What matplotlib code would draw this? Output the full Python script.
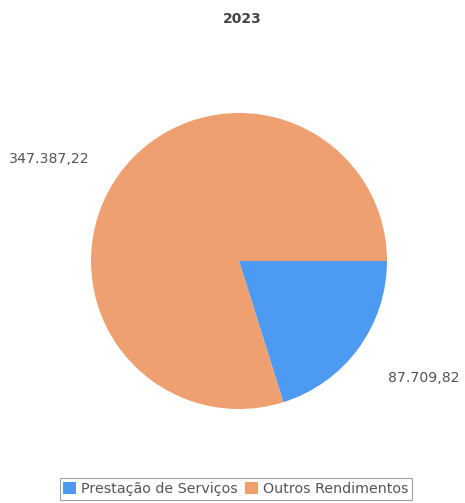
import matplotlib
matplotlib.use('Agg')
import matplotlib.pyplot as plt

title = '2023'
categories = ['Prestação de Serviços', 'Outros Rendimentos']
values = [87709.82, 347387.22]
value_labels = ['87.709,82', '347.387,22']
colors = ['#4d9af2', '#eea070']

W, H = 465, 503
fig = plt.figure(figsize=(W / 100, H / 100), dpi=100)

cx, cy, r = 239, 261, 148
ax = fig.add_axes([(cx - r) / W, (H - cy - r) / H, 2 * r / W, 2 * r / H])
wedges, texts = ax.pie(values, colors=colors, startangle=0, counterclock=False,
                       labels=value_labels, labeldistance=1.25,
                       textprops={'fontsize': 10.2, 'color': '#555555'})
# labels sit a little lower than the mid-angle point
for t in texts:
    x, y = t.get_position()
    t.set_position((x, y - 0.05))
ax.set_xlim(-1, 1)
ax.set_ylim(-1, 1)
ax.set_aspect('equal')

fig.text(242 / W, 1 - 19 / H, title, ha='center', va='center',
         fontsize=10, fontweight='bold', color='#444444')

leg = fig.legend(wedges, categories, loc='center', bbox_to_anchor=(236 / W, 1 - 489 / H),
                 ncol=2, fontsize=10.3, frameon=True, fancybox=False,
                 handlelength=0.9, handleheight=0.9, handletextpad=0.35,
                 columnspacing=0.5, borderpad=0.25, borderaxespad=0)
leg.get_frame().set_edgecolor('#888888')
leg.get_frame().set_linewidth(0.8)
for t in leg.get_texts():
    t.set_color('#555555')

fig.savefig('out.png', dpi=100)
